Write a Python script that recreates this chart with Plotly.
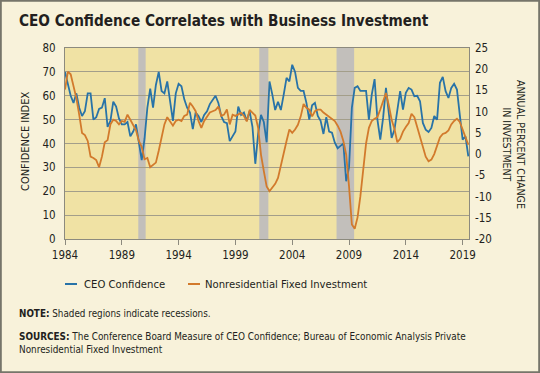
import plotly.graph_objects as go

# ---------------- data (quarterly, 1984Q1 .. 2019Q3) ----------------
ceo_confidence = [
    70, 65, 60, 57,          # 1984
    61, 55, 51.5, 53.5,      # 1985
    61, 61, 50, 51,          # 1986
    54.5, 55, 59, 47,        # 1987
    49.5, 57.5, 55.5, 50.5,  # 1988
    48, 48, 49, 43,          # 1989
    45, 48, 41, 33,          # 1990
    42, 55, 63, 55,          # 1991
    64.5, 70, 62, 61,        # 1992
    66, 58, 49.5, 61,        # 1993
    65, 64, 58.5, 55,        # 1994
    53, 46, 53, 51.5,        # 1995
    49, 52, 53.5, 56.5,      # 1996
    58.5, 60, 57, 51.5,      # 1997
    49, 48.5, 41, 43,        # 1998
    45, 55.5, 52, 53,        # 1999
    49.5, 53.5, 47, 31.5,    # 2000
    44, 52, 49, 40.5,        # 2001
    66, 60.5, 54, 57.5,      # 2002
    54, 60.5, 67.5, 66,      # 2003
    73, 70, 63.3, 62,        # 2004
    62, 57, 50, 56,          # 2005
    57, 51.5, 49.5, 44,      # 2006
    51, 45, 44.5, 40.3,      # 2007
    38, 39, 40, 24.2,        # 2008
    30, 55, 63.3, 64,        # 2009
    62, 62, 62, 50,          # 2010
    60.5, 67, 50, 41.6,      # 2011
    50.7, 63.3, 52, 42.3,    # 2012
    45.8, 53.5, 61.9, 54.2,  # 2013
    61.2, 63.3, 62.6, 59.8,  # 2014
    60, 57.7, 48.6, 45.8,    # 2015
    44.8, 46.5, 51.5, 50,    # 2016
    65.4, 67.9, 61.9, 59.1,  # 2017
    63.3, 65, 62.6, 52,      # 2018
    41.6, 43, 34.6,          # 2019
]

investment_change = [
    15.2, 19.4, 18.8, 16.0,   # 1984
    13.2, 9.3, 5.0, 4.5,      # 1985
    3.1, -0.6, -0.9, -1.4,    # 1986
    -3.1, -0.6, 2.8, 3.3,     # 1987
    7.0, 8.1, 7.8, 7.0,       # 1988
    7.8, 7.6, 9.3, 8.1,       # 1989
    6.7, 5.6, 3.1, 1.7,       # 1990
    -1.2, -0.9, -3.1, -2.6,   # 1991
    -2.0, 0.8, 3.9, 7.0,      # 1992
    8.7, 7.6, 6.7, 7.8,       # 1993
    8.1, 7.8, 9.0, 9.3,       # 1994
    12.1, 11.2, 10.1, 7.8,    # 1995
    6.2, 7.8, 8.7, 9.8,       # 1996
    10.1, 10.4, 11.2, 9.0,    # 1997
    9.3, 10.5, 7.0, 9.3,      # 1998
    9.0, 9.3, 9.7, 9.0,       # 1999
    7.7, 10.4, 9.7, 9.1,      # 2000
    6.2, -0.1, -4.0, -7.6,    # 2001
    -8.75, -8.0, -7.0, -5.6,  # 2002
    -2.45, 0.7, 3.1, 5.8,     # 2003
    5.0, 5.8, 6.9, 8.9,       # 2004
    11.8, 10.9, 10.5, 8.9,    # 2005
    10.1, 10.5, 10.5, 9.8,    # 2006
    9.3, 8.8, 8.4, 7.8,       # 2007
    6.7, 5.3, 3.1, -0.1,      # 2008
    -7.6, -16.6, -17.6, -14.9,  # 2009
    -9.9, -3.1, 2.5, 6.2,     # 2010
    7.8, 8.35, 8.7, 10.5,     # 2011
    12.6, 14.4, 11.5, 8.1,    # 2012
    5.9, 2.8, 3.6, 5.3,       # 2013
    6.4, 7.3, 9.5, 8.7,       # 2014
    6.4, 4.2, 1.7, -0.6,      # 2015
    -1.7, -1.3, 0.0, 1.9,     # 2016
    3.9, 4.75, 5.0, 5.6,      # 2017
    7.0, 7.8, 8.35, 7.6,      # 2018
    5.8, 4.2, 2.2,            # 2019
]

quarters = [1984 + i / 4 for i in range(len(ceo_confidence))]

recessions = [(1990.45, 1991.1), (2001.1, 2001.9), (2007.9, 2009.45)]

x_ticks = [1984, 1989, 1994, 1999, 2004, 2009, 2014, 2019]
left_ticks = [0, 10, 20, 30, 40, 50, 60, 70, 80]
right_ticks = [-20, -15, -10, -5, 0, 5, 10, 15, 20, 25]
right_tick_labels = ["-20", "-15", "-10", "-5", "0", "5", "10", "15", "20", "25"]

# ---------------- styling ----------------
W, H = 540, 373
ML, MR, MT, MB = 65, 71, 48, 134
PW, PH = W - ML - MR, H - MT - MB

FONT = "DejaVu Sans Condensed, Liberation Sans Narrow, Lato, sans-serif"
TXT = "#231f20"
BLUE = "#2873a8"
ORANGE = "#d27a2c"
PLOT_BG = "#f0e2a4"
PAPER_BG = "#f8f2da"
REC = "#c2bfbb"
GRID = "#a39e8a"
AXIS = "#8c8a7e"


def px_x(px):
    return (px - ML) / PW


def px_y(py):
    return 1 - (py - MT) / PH


fig = go.Figure()
fig.add_trace(go.Scatter(x=quarters, y=investment_change, mode="lines",
                         name="Nonresidential Fixed Investment",
                         line=dict(color=ORANGE, width=1.8), yaxis="y2"))
fig.add_trace(go.Scatter(x=quarters, y=ceo_confidence, mode="lines",
                         name="CEO Confidence",
                         line=dict(color=BLUE, width=1.8), yaxis="y"))

shapes = []
for a, b in recessions:
    shapes.append(dict(type="rect", xref="x", yref="paper", x0=a, x1=b, y0=0, y1=1,
                       fillcolor=REC, line=dict(width=0), layer="between"))
# outer frame
shapes.append(dict(type="rect", xref="paper", yref="paper",
                   x0=px_x(0.9), x1=px_x(W - 0.9), y0=px_y(H - 0.9), y1=px_y(0.9),
                   line=dict(color="#76756a", width=1.8), fillcolor="rgba(0,0,0,0)",
                   layer="above"))
# legend symbols
LEG_Y = 284
shapes.append(dict(type="line", xref="paper", yref="paper",
                   x0=px_x(65), x1=px_x(77), y0=px_y(LEG_Y), y1=px_y(LEG_Y),
                   line=dict(color=BLUE, width=2)))
shapes.append(dict(type="line", xref="paper", yref="paper",
                   x0=px_x(188), x1=px_x(200), y0=px_y(LEG_Y), y1=px_y(LEG_Y),
                   line=dict(color=ORANGE, width=2)))

ann = []
ann.append(dict(text="<b>CEO Confidence Correlates with Business Investment</b>",
                xref="paper", yref="paper", x=px_x(17), y=px_y(21),
                xanchor="left", yanchor="middle", showarrow=False,
                font=dict(size=15.2, color=TXT, family=FONT)))
ann.append(dict(text="CONFIDENCE INDEX", xref="paper", yref="paper",
                x=px_x(25), y=px_y(142), textangle=-90, showarrow=False,
                xanchor="center", yanchor="middle",
                font=dict(size=11, color=TXT, family=FONT)))
ann.append(dict(text="ANNUAL PERCENT CHANGE<br>IN INVESTMENT", xref="paper", yref="paper",
                x=px_x(514), y=px_y(144), textangle=90, showarrow=False,
                xanchor="center", yanchor="middle",
                font=dict(size=10.5, color=TXT, family=FONT)))
ann.append(dict(text="CEO Confidence", xref="paper", yref="paper",
                x=px_x(82), y=px_y(LEG_Y), xanchor="left", yanchor="middle",
                showarrow=False, font=dict(size=11.2, color=TXT, family=FONT)))
ann.append(dict(text="Nonresidential Fixed Investment", xref="paper", yref="paper",
                x=px_x(203), y=px_y(LEG_Y), xanchor="left", yanchor="middle",
                showarrow=False, font=dict(size=11.2, color=TXT, family=FONT)))
ann.append(dict(text="<b>NOTE:</b> Shaded regions indicate recessions.",
                xref="paper", yref="paper", x=px_x(17), y=px_y(313),
                xanchor="left", yanchor="middle", showarrow=False,
                font=dict(size=9.8, color=TXT, family=FONT)))
ann.append(dict(text="<b>SOURCES:</b> The Conference Board Measure of CEO Confidence; "
                     "Bureau of Economic Analysis Private<br>Nonresidential Fixed Investment",
                xref="paper", yref="paper", x=px_x(17), y=px_y(329),
                xanchor="left", yanchor="top", align="left", showarrow=False,
                font=dict(size=9.9, color=TXT, family=FONT)))

fig.update_layout(
    width=W, height=H,
    margin=dict(l=ML, r=MR, t=MT, b=MB, pad=0),
    paper_bgcolor=PAPER_BG, plot_bgcolor=PLOT_BG,
    showlegend=False,
    font=dict(family=FONT, color=TXT, size=11),
    shapes=shapes, annotations=ann,
    xaxis=dict(range=[1984, 2019.56], tickvals=x_ticks, ticktext=[str(t) for t in x_ticks],
               showgrid=False, zeroline=False, ticks="outside", ticklen=5,
               tickcolor=AXIS, showline=True, linecolor=AXIS, linewidth=1.2, mirror=True,
               tickfont=dict(size=11.5, color=TXT, family=FONT)),
    yaxis=dict(range=[0, 80], tickvals=left_ticks, showgrid=True, gridcolor=GRID,
               gridwidth=1, zeroline=False, showline=True, linecolor=AXIS, linewidth=1.2,
               mirror=True, ticks="", ticklabelstandoff=6,
               tickfont=dict(size=11.5, color=TXT, family=FONT)),
    yaxis2=dict(range=[-20, 25], tickvals=right_ticks, ticktext=right_tick_labels,
                overlaying="y", side="right",
                showgrid=False, zeroline=False, showline=False, ticks="",
                ticklabelstandoff=5,
                tickfont=dict(size=11.5, color=TXT, family=FONT)),
)

fig.write_html("out.html",
               config={"displayModeBar": False},
               post_script="document.body.style.margin='0';document.body.style.padding='0';")
